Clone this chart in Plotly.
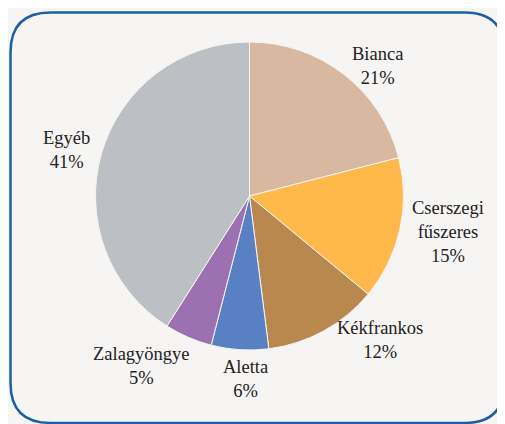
import math
import plotly.graph_objects as go

categories = ["Bianca", "Cserszegi fűszeres", "Kékfrankos", "Aletta", "Zalagyöngye", "Egyéb"]
values = [21, 15, 12, 6, 5, 41]
colors = ["#d8b8a0", "#ffb84a", "#b8884e", "#5a80c4", "#9d71b1", "#bcc0c4"]

display = [c.replace(" ", "<br>") for c in categories]

W, H = 505, 424
FONT = "Liberation Serif, Times New Roman, serif"

# pie geometry (figure pixels)
cx, cy, R = 241.5, 188, 154

def fx(x):
    return x / W

def fy(y):
    return 1 - y / H

def rounded_rect_path(x0, y0, x1, y1, r):
    def P(x, y):
        return f"{fx(x):.5f},{fy(y):.5f}"
    return (f"M{P(x0 + r, y0)} L{P(x1 - r, y0)} Q{P(x1, y0)} {P(x1, y0 + r)} "
            f"L{P(x1, y1 - r)} Q{P(x1, y1)} {P(x1 - r, y1)} "
            f"L{P(x0 + r, y1)} Q{P(x0, y1)} {P(x0, y1 - r)} "
            f"L{P(x0, y0 + r)} Q{P(x0, y0)} {P(x0 + r, y0)} Z")

fig = go.Figure(go.Pie(
    labels=categories,
    values=values,
    sort=False,
    direction="clockwise",
    rotation=0,
    marker=dict(colors=colors, line=dict(color="#f6f5f3", width=1)),
    textinfo="none",
    showlegend=False,
    hoverinfo="label+percent",
    domain=dict(x=[fx(cx - R), fx(cx + R)], y=[fy(cy + R), fy(cy - R)]),
))

# labels placed just outside each slice's mid-angle
total = sum(values)
annotations = []
cum = 0
for name, v in zip(display, values):
    mid = (cum + v / 2) / total * 2 * math.pi
    cum += v
    s, c = math.sin(mid), math.cos(mid)
    xa = "left" if s > 0.3 else ("right" if s < -0.3 else "center")
    ya = "top" if c < -0.9 else ("bottom" if c > 0.9 else "middle")
    rr = R + (5 if ya != "middle" else 10)
    px, py = cx + rr * s, cy - rr * c
    pct = round(v / total * 100)
    annotations.append(dict(
        x=fx(px), y=fy(py), xref="paper", yref="paper",
        text=f"{name}<br>{pct}%", showarrow=False,
        xanchor=xa, yanchor=ya, align="center",
        xshift=6 if c < -0.8 else 0,
        font=dict(family=FONT, size=18.5, color="#222222"),
    ))

fig.update_layout(
    width=W, height=H,
    margin=dict(l=0, r=0, t=0, b=0),
    paper_bgcolor="#f6f5f3",
    plot_bgcolor="#f6f5f3",
    font=dict(family=FONT),
    annotations=annotations,
    shapes=[dict(type="path", xref="paper", yref="paper",
                 path=rounded_rect_path(2.5, 4.5, 496.5, 415, 40),
                 line=dict(color="#1d5fa3", width=2.5), layer="below")],
)

fig.write_html("out.html")
